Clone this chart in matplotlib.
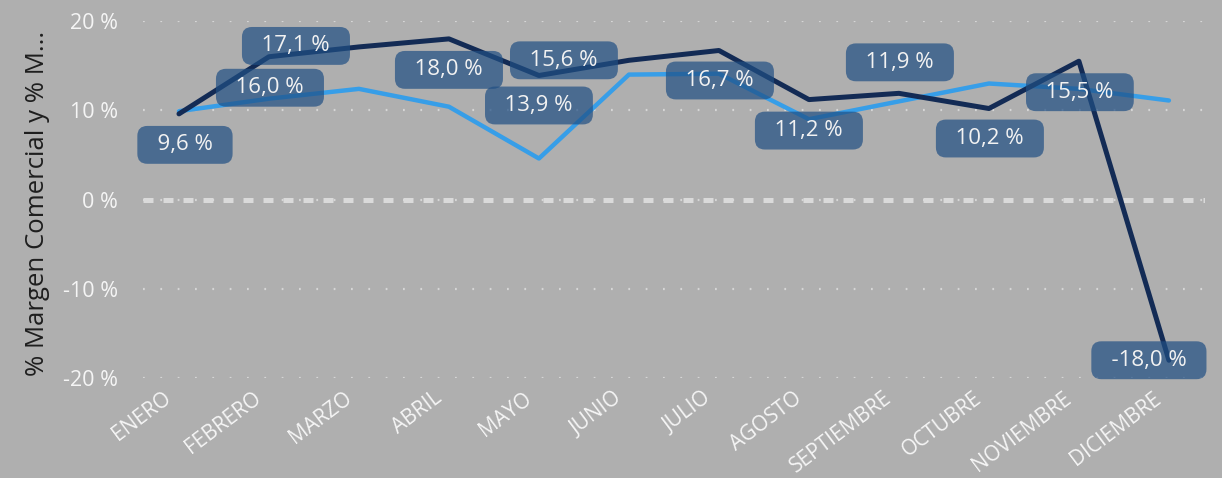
import matplotlib
matplotlib.use("Agg")
import matplotlib.pyplot as plt
import matplotlib.transforms as mtransforms

months = ["ENERO", "FEBRERO", "MARZO", "ABRIL", "MAYO", "JUNIO", "JULIO",
          "AGOSTO", "SEPTIEMBRE", "OCTUBRE", "NOVIEMBRE", "DICIEMBRE"]
margen_comercial = [9.6, 16.0, 17.1, 18.0, 13.9, 15.6, 16.7, 11.2, 11.9, 10.2, 15.5, -18.0]
margen_otro = [9.9, 11.3, 12.4, 10.4, 4.6, 14.0, 14.1, 9.0, 11.0, 13.0, 12.4, 11.1]
y_ticks = [-20, -10, 0, 10, 20]
y_label = "% Margen Comercial y % M..."

# label offsets in pixels (dx, dy) - styling only
label_offsets = [(6, -31), (1, -31), (-63, 1), (0, -31), (0, -30), (-65, 0),
                 (1, -30), (0, -31), (1, 31), (1, -30), (1, -31), (-20, 0)]

BG = "#afafaf"
DARK = "#132b55"
LIGHT = "#379ee8"

plt.rcParams['font.family'] = ['Open Sans', 'DejaVu Sans']

fig = plt.figure(figsize=(12.22, 4.78), dpi=100, facecolor=BG)
ax = fig.add_axes([0.117, 0.209, 0.869, 0.747], facecolor=BG)

x = list(range(len(months)))

for t in y_ticks:
    ax.axhline(t, color="#d6d6d6", lw=1.6, ls=(0, (0.8, 7)), zorder=1)
ax.axhline(0, color="#dadada", lw=3.6, ls=(0, (2.0, 2.0)), zorder=1.5)

ax.plot(x, margen_otro, color=LIGHT, lw=3.2, zorder=3, solid_capstyle='round')
ax.plot(x, margen_comercial, color=DARK, lw=3.6, zorder=4, solid_capstyle='round')

for i, v in enumerate(margen_comercial):
    dx, dy = label_offsets[i]
    txt = "  " + f"{v:.1f}".replace(".", ",") + " %  "
    ax.annotate(txt, (i, v), xytext=(dx * 0.72, dy * 0.72), textcoords="offset points",
                ha="center", va="center", fontsize=16, color="#f2f2f2", zorder=5,
                bbox=dict(boxstyle="round,pad=0.38,rounding_size=0.45", fc="#204f84",
                          ec="none", alpha=0.7))

ax.set_xlim(-0.4, 11.4)
ax.set_ylim(-20, 20)
ax.set_yticks(y_ticks)
ax.set_yticklabels([f"{t} %" for t in y_ticks], fontsize=15.5, color="#f5f5f5")
ax.set_xticks(x)
ax.set_xticklabels(months, rotation=37, ha="right", rotation_mode="anchor",
                   fontsize=15, color="#f5f5f5")
ax.tick_params(axis="both", length=0)
ax.tick_params(axis="y", pad=18)
ax.tick_params(axis="x", pad=7)
shift = mtransforms.ScaledTranslation(-16 / 100, 0, fig.dpi_scale_trans)
for t in ax.get_xticklabels():
    t.set_transform(t.get_transform() + shift)
ax.set_ylabel(y_label, fontsize=18.5, color="#1e1e1e")
ax.yaxis.set_label_coords(-0.088, 0.49)

for s in ax.spines.values():
    s.set_visible(False)

fig.savefig("out.png", dpi=100, facecolor=BG)
